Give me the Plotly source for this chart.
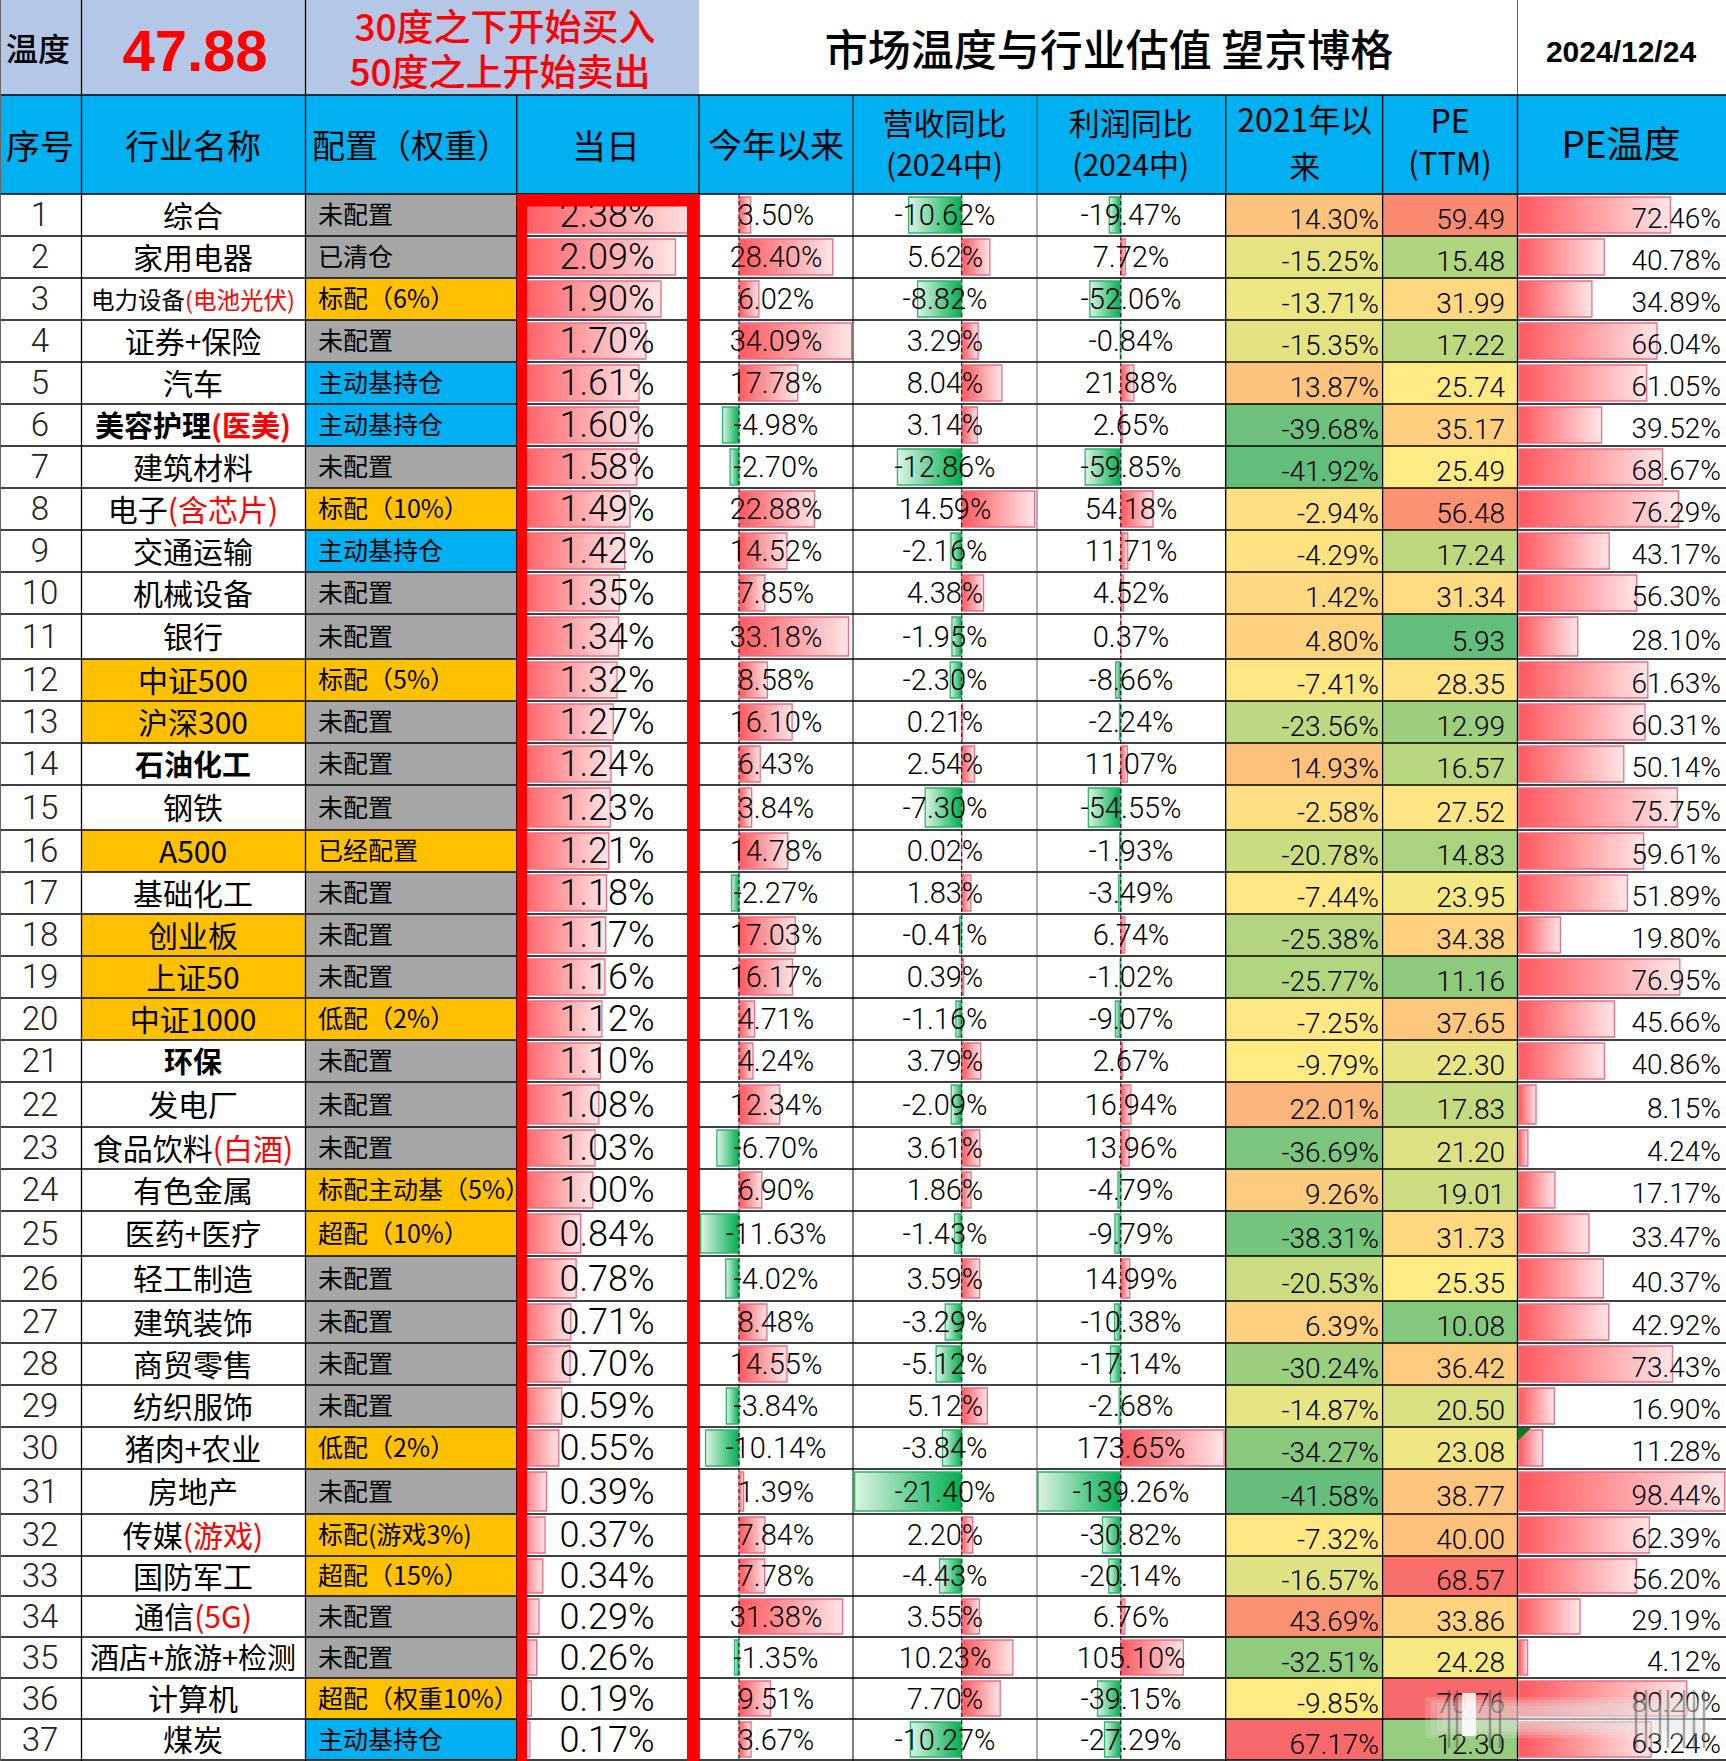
import numpy as np
import plotly.graph_objects as go

W, H = 1726, 1761

# ---------- data ----------
names = ["综合","家用电器","电力设备","证券+保险","汽车","美容护理","建筑材料","电子","交通运输","机械设备","银行","中证500","沪深300","石油化工","钢铁","A500","基础化工","创业板","上证50","中证1000","环保","发电厂","食品饮料","有色金属","医药+医疗","轻工制造","建筑装饰","商贸零售","纺织服饰","猪肉+农业","房地产","传媒","国防军工","通信","酒店+旅游+检测","计算机","煤炭"]
name_notes = {3:"(电池光伏)",6:"(医美)",8:"(含芯片)",23:"(白酒)",32:"(游戏)",34:"(5G)"}
bold_rows = [6,14,21]
gold_name_rows = [12,13,16,18,19,20]
config = ["未配置","已清仓","标配（6%）","未配置","主动基持仓","主动基持仓","未配置","标配（10%）","主动基持仓","未配置","未配置","标配（5%）","未配置","未配置","未配置","已经配置","未配置","未配置","未配置","低配（2%）","未配置","未配置","未配置","标配主动基（5%）","超配（10%）","未配置","未配置","未配置","未配置","低配（2%）","未配置","标配(游戏3%)","超配（15%）","未配置","未配置","超配（权重10%）","主动基持仓"]
today = [2.38,2.09,1.90,1.70,1.61,1.60,1.58,1.49,1.42,1.35,1.34,1.32,1.27,1.24,1.23,1.21,1.18,1.17,1.16,1.12,1.10,1.08,1.03,1.00,0.84,0.78,0.71,0.70,0.59,0.55,0.39,0.37,0.34,0.29,0.26,0.19,0.17]
ytd = [3.50,28.40,6.02,34.09,17.78,-4.98,-2.70,22.88,14.52,7.85,33.18,8.58,16.10,6.43,3.84,14.78,-2.27,17.03,16.17,4.71,4.24,12.34,-6.70,6.90,-11.63,-4.02,8.48,14.55,-3.84,-10.14,1.39,7.84,7.78,31.38,-1.35,9.51,3.67]
revenue = [-10.62,5.62,-8.82,3.29,8.04,3.14,-12.86,14.59,-2.16,4.38,-1.95,-2.30,0.21,2.54,-7.30,0.02,1.83,-0.41,0.39,-1.16,3.79,-2.09,3.61,1.86,-1.43,3.59,-3.29,-5.12,5.12,-3.84,-21.40,2.20,-4.43,3.55,10.23,7.70,-10.27]
profit = [-19.47,7.72,-52.06,-0.84,21.88,2.65,-59.85,54.18,11.71,4.52,0.37,-8.66,-2.24,11.07,-54.55,-1.93,-3.49,6.74,-1.02,-9.07,2.67,16.94,13.96,-4.79,-9.79,14.99,-10.38,-17.14,-2.68,173.65,-139.26,-30.82,-20.14,6.76,105.10,-39.15,-27.29]
since2021 = [14.30,-15.25,-13.71,-15.35,13.87,-39.68,-41.92,-2.94,-4.29,1.42,4.80,-7.41,-23.56,14.93,-2.58,-20.78,-7.44,-25.38,-25.77,-7.25,-9.79,22.01,-36.69,9.26,-38.31,-20.53,6.39,-30.24,-14.87,-34.27,-41.58,-7.32,-16.57,43.69,-32.51,-9.85,67.17]
pe = [59.49,15.48,31.99,17.22,25.74,35.17,25.49,56.48,17.24,31.34,5.93,28.35,12.99,16.57,27.52,14.83,23.95,34.38,11.16,37.65,22.30,17.83,21.20,19.01,31.73,25.35,10.08,36.42,20.50,23.08,38.77,40.00,68.57,33.86,24.28,70.76,12.30]
pe_temp = [72.46,40.78,34.89,66.04,61.05,39.52,68.67,76.29,43.17,56.30,28.10,61.63,60.31,50.14,75.75,59.61,51.89,19.80,76.95,45.66,40.86,8.15,4.24,17.17,33.47,40.37,42.92,73.43,16.90,11.28,98.44,62.39,56.20,29.19,4.12,80.20,63.24]

# ---------- layout geometry ----------
row_edges = [194,236,278,320,362,404,446,488,530,572,614,659,701,743,785,830,872,914,956,998,1040,1082,1127,1169,1211,1256,1301,1343,1385,1427,1469,1514,1556,1596,1637,1678,1719,1760]
col_edges = [0,81.5,305.5,516.7,699,853,1037,1225.7,1382.6,1517.5,1726]
centers = [(a+b)/2 for a,b in zip(row_edges[:-1],row_edges[1:])]
heights = [b-a for a,b in zip(row_edges[:-1],row_edges[1:])]
SANS = "Noto Sans CJK SC"
NUM = "Roboto, Noto Sans CJK SC"

fig = go.Figure()
bar_axes = [
    ("x2", today, 516.7, 699, 517, 75.8),
    ("x3", ytd, 699, 853, 739, 3.3),
    ("x4", revenue, 853, 1037, 961.7, 5.0),
    ("x5", profit, 1037, 1225.7, 1120.8, 0.595),
    ("x6", pe_temp, 1517.5, 1726, 1519, 2.09),
]
layout_axes = {}
def axis_cfg(x0, x1, rng):
    return dict(domain=[x0/W, x1/W], range=rng, visible=False, fixedrange=True, anchor="y")
layout_axes["xaxis"] = axis_cfg(0, W, [0, W])
for ax, vals, x0, x1, zero, k in bar_axes:
    layout_axes["xaxis"+ax[1:]] = axis_cfg(x0, x1, [(x0-zero)/k, (x1-zero)/k])
layout_axes["xaxis7"] = axis_cfg(0, W, [0, W])

# ---------- cell backgrounds ----------
GRAY, GOLD, BLUE = "#A6A6A6", "#FFC000", "#00B0F0"
def cfg_color(c):
    if c in ("未配置","已清仓"): return GRAY
    if c == "主动基持仓": return BLUE
    return GOLD
fig.add_trace(go.Bar(orientation="h", y=centers, x=[col_edges[3]-col_edges[2]]*37, base=col_edges[2],
                     width=heights, marker=dict(color=[cfg_color(c) for c in config], line_width=0),
                     hoverinfo="skip", xaxis="x", yaxis="y", showlegend=False))
gy = [centers[r-1] for r in gold_name_rows]
fig.add_trace(go.Bar(orientation="h", y=gy, x=[col_edges[2]-col_edges[1]]*len(gy), base=col_edges[1],
                     width=[heights[r-1] for r in gold_name_rows], marker=dict(color=GOLD, line_width=0),
                     hoverinfo="skip", xaxis="x", yaxis="y", showlegend=False))
def heat(vals, x0, x1):
    v = np.array(vals)
    p = (np.percentile(v, 50)-v.min())/(v.max()-v.min())
    fig.add_trace(go.Heatmap(z=[[a] for a in vals], x=[x0, x1], y=row_edges,
                             zmin=v.min(), zmax=v.max(), showscale=False, hoverinfo="skip",
                             colorscale=[[0,"#63BE7B"],[p,"#FFEB84"],[1,"#F8696B"]], xaxis="x", yaxis="y"))
heat(since2021, col_edges[7], col_edges[8])
heat(pe, col_edges[8], col_edges[9])

# ---------- data bars ----------
def add_bar(ax, v, r):
    top, bot = row_edges[r]+3, row_edges[r+1]-3
    if v >= 0:
        scale = [[0,"#FF585E"],[1,"#FFE6E8"]]; edge = "#EE6C86"
    else:
        scale = [[0,"#DDF3E5"],[1,"#00AF50"]]; edge = "#2DB56E"
    fig.add_trace(go.Scatter(x=[0,v,v,0,0], y=[top,top,bot,bot,top], mode="lines", fill="toself",
                             line=dict(color=edge, width=1.3),
                             fillgradient=dict(type="horizontal", colorscale=scale),
                             xaxis=ax, yaxis="y", hoverinfo="skip", showlegend=False))
for ax, vals, *_ in bar_axes:
    for r, v in enumerate(vals):
        add_bar(ax, v, r)
for ax in ("x3","x4","x5"):
    fig.add_trace(go.Scatter(x=[0,0], y=[row_edges[0], row_edges[-1]], mode="lines",
                             line=dict(color="#111", width=1, dash="4px,3px"),
                             xaxis=ax, yaxis="y", hoverinfo="skip", showlegend=False))

# ---------- text ----------
def text(xs, ys, ts, size, pos="middle center", color="#000", family=SANS, weight=400):
    fig.add_trace(go.Scatter(x=xs, y=ys, text=ts, mode="text", textposition=pos,
                             textfont=dict(size=size, color=color, family=family, weight=weight),
                             xaxis="x7", yaxis="y", hoverinfo="skip", showlegend=False, cliponaxis=False))

rows = list(range(37))
text([40]*37, [c+3 for c in centers], [str(i+1) for i in rows], 33, family=NUM, weight=300, color="#222")

def name_label(i):
    note = name_notes.get(i+1, "")
    if note:
        return f'{names[i]}<span style="color:#FF0000">{note}</span>'
    return names[i]
small = [3, 35]
bold = bold_rows
plain = [i for i in rows if i+1 not in small+bold]
text([193]*len(plain), [centers[i]+4 for i in plain], [name_label(i) for i in plain], 30)
text([193]*len(bold), [centers[r-1]+5 for r in bold], [name_label(r-1) for r in bold], 29, weight=700)
text([193], [centers[2]+4], [name_label(2)], 23.5)
text([193], [centers[34]+4], [name_label(34)], 29)

text([318]*37, [c+3 for c in centers], config, 25, pos="middle right")

def pct(vals): return [f"{v:.2f}%" for v in vals]
text([607]*37, [c+3 for c in centers], pct(today), 36, family=NUM, weight=300)
text([776]*37, [c+3 for c in centers], pct(ytd), 29, family=NUM, weight=300)
text([945]*37, [c+3 for c in centers], pct(revenue), 29, family=NUM, weight=300)
text([1131]*37, [c+3 for c in centers], pct(profit), 29, family=NUM, weight=300)
text([1379]*37, [c+7 for c in centers], pct(since2021), 28, pos="middle left", family=NUM, weight=300)
text([1505]*37, [c+7 for c in centers], [f"{v:.2f}" for v in pe], 28, pos="middle left", family=NUM, weight=300)
text([1721]*37, [c+6 for c in centers], pct(pe_temp), 28, pos="middle left", family=NUM, weight=300)

# header
text([40,193,606,776], [150,150,150,149], ["序号","行业名称","当日","今年以来"], 34)
text([312], [150], ["配置（权重）"], 33, pos="middle right")
text([944.5,1130.7], [127,127], ["营收同比","利润同比"], 31)
text([944.5,1130.7], [168,168], ["(2024中)","(2024中)"], 30)
text([1304.7,1450], [124,125], ["2021年以","PE"], 32)
text([1304.7,1450], [170,167], ["来","(TTM)"], 31)
text([1621], [149], ["PE温度"], 37)
# top band
text([38], [53], ["温度"], 32, weight=500)
text([195], [56], ["47.88"], 58, color="#FF0000", family="Liberation Sans", weight=700)
text([505,500], [32,77], ["30度之下开始买入","50度之上开始卖出"], 37, color="#FF0000", weight=500)
text([1109], [55], ["市场温度与行业估值 望京博格"], 43, weight=500)
text([1621], [54], ["2024/12/24"], 30, family="Liberation Sans", weight=700)

# ---------- shapes ----------
def px(x): return x/W
def py(y): return 1-y/H
shapes = []
def rect(x0,y0,x1,y1,fill,layer="above"):
    shapes.append(dict(type="rect",xref="paper",yref="paper",x0=px(x0),x1=px(x1),y0=py(y0),y1=py(y1),
                       fillcolor=fill,line_width=0,layer=layer))
def line(x0,y0,x1,y1,color="#000",w=1.5):
    shapes.append(dict(type="line",xref="paper",yref="paper",x0=px(x0),x1=px(x1),y0=py(y0),y1=py(y1),
                       line=dict(color=color,width=w),layer="above"))
rect(0,0,699,95,"#B4C7E7","below")
rect(0,95,W,194,"#00B0F0","below")
for y in row_edges:
    line(0,y,W,y,w=1.6)
line(0,95,W,95,w=1.6)
for x in col_edges[1:5]+col_edges[7:10]:
    line(x,95,x,H,w=1.3)
line(col_edges[5],95,col_edges[5],H,w=1)
line(col_edges[6],95,col_edges[6],H,"#333",w=0.8)
line(81.5,0,81.5,95,w=1.3); line(305.5,0,305.5,95,w=1.3); line(1517.5,0,1517.5,95,"#333",w=0.8)
line(0.5,0,0.5,H,"#666",w=1)
# thick red frame of 当日
rect(516.7,194,527,H,"#FF0000"); rect(687,194,699,H,"#FF0000"); rect(516.7,194,699,206.5,"#FF0000")
# cell comment marker
shapes.append(dict(type="path",xref="paper",yref="paper",layer="above",line_width=0,fillcolor="#0B7A2B",
    path=f"M {px(1517.5)} {py(1428)} L {px(1531)} {py(1428)} L {px(1517.5)} {py(1441)} Z"))
# blurred watermark smudge
for d in (0,6,12,18):
    rect(1425+d,1697+d/2,1712-d,1738-d/2,"rgba(232,232,232,0.2)")
for x in [1449,1457,1490,1500,1636,1646,1660,1668,1684,1694,1704]:
    line(x,1690,x,1748,"rgba(70,70,70,0.45)",w=2.5)
rect(1462,1693,1476,1736,"rgba(255,255,255,0.85)")

fig.update_layout(width=W, height=H, margin=dict(l=0,r=0,t=0,b=0), paper_bgcolor="white",
                  plot_bgcolor="rgba(0,0,0,0)", showlegend=False, shapes=shapes, barmode="overlay",
                  yaxis=dict(domain=[0,1], range=[H,0], visible=False, fixedrange=True),
                  **layout_axes)
fig.write_html("out.html", config=dict(displayModeBar=False),
               post_script="document.body.style.margin='0';")
